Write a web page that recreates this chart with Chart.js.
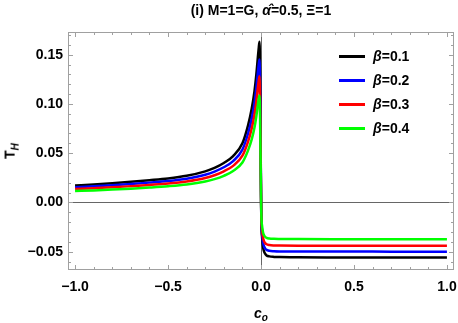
<!DOCTYPE html>
<html>
<head>
<meta charset="utf-8">
<script src="https://cdn.jsdelivr.net/npm/chart.js@4.4.1/dist/chart.umd.min.js"></script>
<style>
  html, body { margin: 0; padding: 0; background: #fff; }
  #wrap { position: relative; width: 458px; height: 323px; font-family: "Liberation Sans", Arial, sans-serif; font-weight: bold; color: #000; }
  #chart { position: absolute; left: 0; top: 0; }
  .title { position: absolute; left: 61px; width: 400px; top: 2px; text-align: center; font-size: 14px; line-height: 16px; }
  .ylab { position: absolute; left: 11px; top: 151px; transform: translate(-50%, -50%) rotate(-90deg); font-size: 14px; white-space: nowrap; }
  .xlab { position: absolute; left: 261px; top: 314px; transform: translate(-50%, -50%); font-size: 14px; font-style: italic; white-space: nowrap; }
  .leg { position: absolute; left: 339px; height: 20px; font-size: 14px; line-height: 20px; white-space: nowrap; }
  .leg span.sw { display: inline-block; width: 26px; height: 3px; vertical-align: middle; margin-right: 8px; position: relative; top: -1px; }
  sub { font-size: 10px; }
</style>
</head>
<body>
<div id="wrap">
  <canvas id="chart" width="458" height="323"></canvas>
  <div class="title">(i) M=1=G, <i>&#945;&#770;</i>=0.5, &#926;=1</div>
  <div class="ylab">T<sub><i>H</i></sub></div>
  <div class="xlab">c<sub>o</sub></div>
  <div id="legend"></div>
</div>
<script>
// c_o sample positions (dense around the pole at 0)
const xs = [-1.0, -0.9, -0.8, -0.7, -0.6, -0.5, -0.4, -0.3, -0.25, -0.2, -0.15, -0.1, -0.07, -0.05, -0.035, -0.025, -0.018, -0.012, -0.008,
            0.002, 0.006, 0.010, 0.015, 0.022, 0.03, 0.045, 0.07, 0.1, 0.2, 0.4, 0.6, 0.8, 1.0];

const beta01 = [0.0172, 0.0182, 0.0194, 0.0209, 0.0225, 0.0243, 0.0270, 0.0315, 0.0350, 0.0400, 0.0470, 0.0600, 0.0780, 0.0950, 0.1130, 0.1300, 0.1450, 0.1570, 0.1630,
                -0.0200, -0.0360, -0.0440, -0.0490, -0.0520, -0.0538, -0.0548, -0.0553, -0.0555, -0.0557, -0.0558, -0.0558, -0.0559, -0.0559];
const beta02 = [0.0154, 0.0163, 0.0174, 0.0187, 0.0201, 0.0217, 0.0241, 0.0281, 0.0313, 0.0357, 0.0420, 0.0536, 0.0697, 0.0849, 0.1010, 0.1162, 0.1296, 0.1403, 0.1450,
                -0.0179, -0.0322, -0.0394, -0.0439, -0.0466, -0.0482, -0.0491, -0.0495, -0.0497, -0.0498, -0.0499, -0.0499, -0.0500, -0.0500];
const beta03 = [0.0136, 0.0144, 0.0153, 0.0165, 0.0178, 0.0192, 0.0213, 0.0248, 0.0276, 0.0316, 0.0371, 0.0474, 0.0615, 0.0750, 0.0892, 0.1026, 0.1144, 0.1238, 0.1280,
                -0.0158, -0.0284, -0.0347, -0.0387, -0.0411, -0.0425, -0.0433, -0.0437, -0.0438, -0.0440, -0.0441, -0.0441, -0.0441, -0.0441];
const beta04 = [0.0115, 0.0122, 0.0130, 0.0140, 0.0151, 0.0164, 0.0182, 0.0212, 0.0236, 0.0270, 0.0318, 0.0405, 0.0526, 0.0640, 0.0760, 0.0875, 0.0975, 0.1055, 0.1085,
                -0.0134, -0.0241, -0.0294, -0.0328, -0.0348, -0.0360, -0.0367, -0.0370, -0.0371, -0.0372, -0.0373, -0.0373, -0.0373, -0.0373];

const seriesLabels = ['\u03b2=0.1', '\u03b2=0.2', '\u03b2=0.3', '\u03b2=0.4'];
const seriesColors = ['#000000', '#0000ff', '#ff0000', '#00ff00'];
const seriesValues = [beta01, beta02, beta03, beta04];

const xTicks = [-1.0, -0.5, 0.0, 0.5, 1.0];
const yTicks = [-0.05, 0.0, 0.05, 0.10, 0.15];
const xMinor = [-1.0, -0.9, -0.8, -0.7, -0.6, -0.5, -0.4, -0.3, -0.2, -0.1, 0.0, 0.1, 0.2, 0.3, 0.4, 0.5, 0.6, 0.7, 0.8, 0.9, 1.0];
const yMinor = [-0.06, -0.05, -0.04, -0.03, -0.02, -0.01, 0.0, 0.01, 0.02, 0.03, 0.04, 0.05, 0.06, 0.07, 0.08, 0.09, 0.10, 0.11, 0.12, 0.13, 0.14, 0.15, 0.16, 0.17];

const fmt = (v, d) => (v < 0 ? '\u2212' : '') + Math.abs(v).toFixed(d);

// legend (html, so the beta can be italic)
const legendBox = document.getElementById('legend');
const legendTops = [46, 70, 94, 118];
seriesLabels.forEach((lab, i) => {
    const row = document.createElement('div');
    row.className = 'leg';
    row.style.top = legendTops[i] + 'px';
    row.innerHTML = `<span class="sw" style="background:${seriesColors[i]}"></span><i>\u03b2</i>${lab.slice(1)}`;
    legendBox.appendChild(row);
});

// frame, inner ticks and zero axes, like the Mathematica frame
const framePlugin = {
    id: 'frame',
    beforeDatasetsDraw(chart) {
        const { ctx, chartArea: a, scales: { x, y } } = chart;
        ctx.save();
        ctx.strokeStyle = '#666';
        ctx.lineWidth = 1;
        const x0 = Math.round(x.getPixelForValue(0)) + 0.5;
        const y0 = Math.round(y.getPixelForValue(0)) + 0.5;
        ctx.beginPath();
        ctx.moveTo(x0, a.top); ctx.lineTo(x0, a.bottom);
        ctx.moveTo(a.left, y0); ctx.lineTo(a.right, y0);
        ctx.stroke();
        ctx.restore();
    },
    afterDraw(chart) {
        const { ctx, chartArea: a, scales: { x, y } } = chart;
        ctx.save();
        ctx.strokeStyle = '#a0a0a0';
        ctx.lineWidth = 1;
        ctx.strokeRect(a.left + 0.5, a.top + 0.5, a.right - a.left - 1, a.bottom - a.top - 1);
        ctx.beginPath();
        xMinor.forEach(v => {
            const p = Math.round(x.getPixelForValue(v)) + 0.5;
            const len = xTicks.some(t => Math.abs(t - v) < 1e-9) ? 5 : 3;
            ctx.moveTo(p, a.bottom); ctx.lineTo(p, a.bottom - len);
            ctx.moveTo(p, a.top); ctx.lineTo(p, a.top + len);
        });
        yMinor.forEach(v => {
            const p = Math.round(y.getPixelForValue(v)) + 0.5;
            if (p < a.top || p > a.bottom) return;
            const len = yTicks.some(t => Math.abs(t - v) < 1e-9) ? 5 : 3;
            ctx.moveTo(a.left, p); ctx.lineTo(a.left + len, p);
            ctx.moveTo(a.right, p); ctx.lineTo(a.right - len, p);
        });
        ctx.stroke();
        ctx.restore();
    }
};

const datasets = seriesValues.map((vals, i) => ({
    label: seriesLabels[i],
    data: xs.map((xv, j) => ({ x: xv, y: vals[j] })),
    borderColor: seriesColors[i],
    borderWidth: 2.5,
    pointRadius: 0,
    fill: false,
    cubicInterpolationMode: 'monotone',
    order: 3 - i
}));

const tickFont = { family: '"Liberation Sans", Arial, sans-serif', size: 14, weight: 'bold' };

new Chart(document.getElementById('chart').getContext('2d'), {
    type: 'line',
    data: { datasets },
    options: {
        responsive: false,
        animation: false,
        layout: { padding: { top: 32, right: 4, left: 0, bottom: 0 } },
        plugins: { legend: { display: false }, tooltip: { enabled: false } },
        scales: {
            x: {
                type: 'linear',
                min: -1.038,
                max: 1.038,
                afterBuildTicks: s => { s.ticks = xTicks.map(v => ({ value: v })); },
                afterFit: s => { s.height = 53; s.paddingLeft = 0; s.paddingRight = 0; },
                grid: { display: false, drawTicks: false },
                border: { display: false },
                ticks: { color: '#000', font: tickFont, padding: 9, maxRotation: 0, callback: v => fmt(v, 1) }
            },
            y: {
                type: 'linear',
                min: -0.0686,
                max: 0.173,
                afterBuildTicks: s => { s.ticks = yTicks.map(v => ({ value: v })); },
                afterFit: s => { s.width = 68; s.paddingTop = 0; s.paddingBottom = 0; },
                grid: { display: false, drawTicks: false },
                border: { display: false },
                ticks: { color: '#000', font: tickFont, padding: 5, callback: v => fmt(v, 2) }
            }
        }
    },
    plugins: [framePlugin]
});
</script>
</body>
</html>
